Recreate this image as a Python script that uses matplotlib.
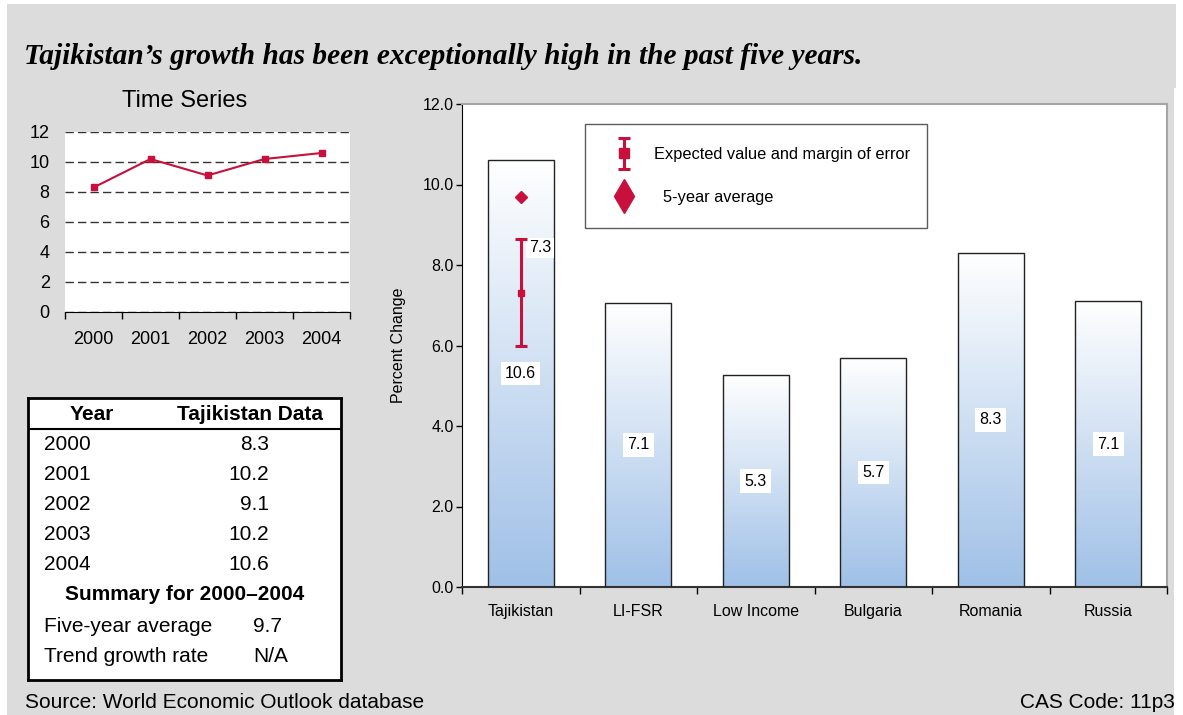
import numpy as np
import matplotlib
matplotlib.use("Agg")
import matplotlib.pyplot as plt
from matplotlib.lines import Line2D
from matplotlib.legend_handler import HandlerErrorbar
from matplotlib.colors import LinearSegmentedColormap
import matplotlib.patches as mpatches

# ---------------- data ----------------
years = ["2000", "2001", "2002", "2003", "2004"]
tj_growth = [8.3, 10.2, 9.1, 10.2, 10.6]

countries = ["Tajikistan", "LI-FSR", "Low Income", "Bulgaria", "Romania", "Russia"]
country_values = [10.6, 7.06, 5.26, 5.7, 8.3, 7.1]
country_labels = ["10.6", "7.1", "5.3", "5.7", "8.3", "7.1"]

expected_value = 7.3
margin_low = 6.0
margin_high = 8.65
five_year_avg = 9.7
trend_growth = "N/A"

table_header = ["Year", "Tajikistan Data"]
summary_title = "Summary for 2000\u20132004"
summary_labels = ["Five-year average", "Trend growth rate"]
summary_values = [f"{five_year_avg:.1f}", trend_growth]

title = "Tajikistan\u2019s growth has been exceptionally high in the past five years."
source = "Source: World Economic Outlook database"
cas_code = "CAS Code: 11p3"

# ---------------- style ----------------
RED = "#C8103C"
GRAY_BG = "#DCDCDC"
FONT = "Liberation Sans"
plt.rcParams["font.family"] = [FONT, "DejaVu Sans"]

W, H = 1183, 715
fig = plt.figure(figsize=(W / 100, H / 100), dpi=100)
fig.patch.set_facecolor("white")


def box(l, t, r, b):
    return [l / W, 1 - b / H, (r - l) / W, (b - t) / H]


def fx(x):
    return x / W


def fy(y):
    return 1 - y / H


# background panels
for (l, t, r, b) in [(7, 4, 1176, 88), (7, 88, 1174, 715)]:
    fig.patches.append(mpatches.Rectangle((fx(l), fy(b)), (r - l) / W, (b - t) / H,
                                          transform=fig.transFigure, facecolor=GRAY_BG,
                                          edgecolor="none", zorder=-10))

# title
fig.text(fx(24), fy(56), title, family="Liberation Serif", style="italic",
         weight="bold", fontsize=21.2, ha="left", va="center")

# ---------------- time series ----------------
ax1 = fig.add_axes(box(65, 132, 350, 312))
xi = np.arange(len(years))
ax1.plot(xi, tj_growth, color=RED, lw=1.5, marker="s", ms=5, zorder=3)
ax1.set_xlim(-0.5, len(years) - 0.5)
ax1.set_ylim(0, 12)
ax1.set_yticks(range(0, 13, 2))
ax1.set_xticks(xi)
ax1.set_xticklabels(years)
ax1.set_xticks(np.arange(-0.5, len(years), 1), minor=True)
ax1.tick_params(axis="x", which="major", length=0, pad=14, labelsize=13)
ax1.tick_params(axis="x", which="minor", length=5, direction="out", width=1)
ax1.tick_params(axis="y", length=0, pad=11, labelsize=13)
for s in ["left", "right", "top"]:
    ax1.spines[s].set_visible(False)
ax1.spines["bottom"].set_color("black")
ax1.yaxis.grid(True, ls=(0, (6, 3)), color="#333333", lw=1)
ax1.set_axisbelow(True)
fig.text(fx(185), fy(101), "Time Series", fontsize=17, ha="center", va="center")

# ---------------- table ----------------
tl, tt, tr, tb = 28, 398, 341, 680
axt = fig.add_axes(box(tl, tt, tr, tb))
axt.set_xlim(0, tr - tl)
axt.set_ylim(tb - tt, 0)
axt.set_xticks([])
axt.set_yticks([])
for s in axt.spines.values():
    s.set_linewidth(2)
    s.set_color("black")
fs = 15
axt.text(64, 16, table_header[0], weight="bold", fontsize=fs, ha="center", va="center")
axt.text(222, 16, table_header[1], weight="bold", fontsize=fs, ha="center", va="center")
axt.axhline(31, color="black", lw=1.5)
for i, (yr, v) in enumerate(zip(years, tj_growth)):
    yy = 47 + 30 * i
    axt.text(16, yy, yr, fontsize=fs, ha="left", va="center")
    axt.text(241, yy, f"{v:.1f}", fontsize=fs, ha="right", va="center")
axt.text(157, 197, summary_title, weight="bold", fontsize=fs, ha="center", va="center")
for i, (lab, val) in enumerate(zip(summary_labels, summary_values)):
    yy = 228 + 30 * i
    axt.text(16, yy, lab, fontsize=fs, ha="left", va="center")
    axt.text(225, yy, val, fontsize=fs, ha="left", va="center")

# ---------------- bar chart ----------------
ax = fig.add_axes(box(462, 104, 1167, 587))
xc = np.arange(len(countries))
bars = ax.bar(xc, country_values, width=0.56, facecolor="none", edgecolor="#222222",
              lw=1, zorder=3)
grad = np.linspace(0, 1, 256).reshape(-1, 1)
cmap = LinearSegmentedColormap.from_list("g", ["#9FC0E7", "#FFFFFF"])
for b in bars:
    x0, w, h = b.get_x(), b.get_width(), b.get_height()
    ax.imshow(grad, extent=(x0, x0 + w, 0, h), origin="lower", cmap=cmap,
              aspect="auto", zorder=2, interpolation="bilinear")

for xpos, v, lab in zip(xc, country_values, country_labels):
    ax.text(xpos, v / 2, lab, ha="center", va="center", fontsize=11.5, zorder=6,
            bbox=dict(facecolor="white", edgecolor="none", pad=3))

eb = ax.errorbar([xc[0]], [expected_value],
                 yerr=[[expected_value - margin_low], [margin_high - expected_value]],
                 fmt="s", color=RED, ms=4.5, capsize=4.3, elinewidth=2.2, capthick=2.2,
                 zorder=7, label="Expected value and margin of error")
ax.plot([xc[0]], [five_year_avg], marker="D", ms=6.5, color=RED, ls="none", zorder=7)
ax.annotate(f"{expected_value:.1f}", xy=(xc[0], margin_high), xytext=(6, -6.5),
            textcoords="offset points", ha="left", va="center", fontsize=11.5, zorder=6,
            bbox=dict(facecolor="white", edgecolor="none", pad=2))

ax.set_xlim(-0.5, len(countries) - 0.5)
ax.set_ylim(0, 12)
ax.set_yticks(np.arange(0, 12.1, 2))
ax.set_yticklabels([f"{t:.1f}" for t in np.arange(0, 12.1, 2)])
ax.set_xticks(xc)
ax.set_xticklabels(countries)
ax.set_xticks(np.arange(-0.5, len(countries), 1), minor=True)
ax.tick_params(axis="x", which="major", length=0, pad=12, labelsize=11.5)
ax.tick_params(axis="x", which="minor", length=5, direction="out", width=1)
ax.tick_params(axis="y", length=4, direction="out", pad=2, labelsize=11.5, width=1)
ax.spines["top"].set_color("#A6A6A6")
ax.spines["right"].set_color("#A6A6A6")
ax.spines["top"].set_linewidth(1.5)
ax.spines["right"].set_linewidth(1.5)
ax.spines["left"].set_color("black")
ax.spines["bottom"].set_color("#333333")
ax.spines["bottom"].set_linewidth(1.5)
ax.set_ylabel("Percent Change", fontsize=11.5, labelpad=12)

diamond_proxy = Line2D([], [], marker="d", ms=10.7, color=RED, ls="none")
leg_x0 = (585 - 462) / 705
leg_w = (927 - 585) / 705
leg_top = (587 - 124) / 483
leg = ax.legend([eb, diamond_proxy],
                ["Expected value and margin of error", "  5-year average"],
                loc="upper left", bbox_to_anchor=(leg_x0, leg_top - 0.3, leg_w, 0.3),
                mode="expand", fontsize=11.8, frameon=True, fancybox=False,
                edgecolor="#333333", borderpad=1.4, labelspacing=1.7,
                handlelength=2.0, handletextpad=0.8, borderaxespad=0,
                handler_map={type(eb): HandlerErrorbar(yerr_size=0.95)},
                markerscale=1.6)
leg.get_frame().set_linewidth(1)
leg.set_zorder(10)

# footer
fig.text(fx(25), fy(703), source, fontsize=15, ha="left", va="center")
fig.text(fx(1175), fy(703), cas_code, fontsize=15, ha="right", va="center")

fig.savefig("out.png", dpi=100, facecolor=fig.get_facecolor())
